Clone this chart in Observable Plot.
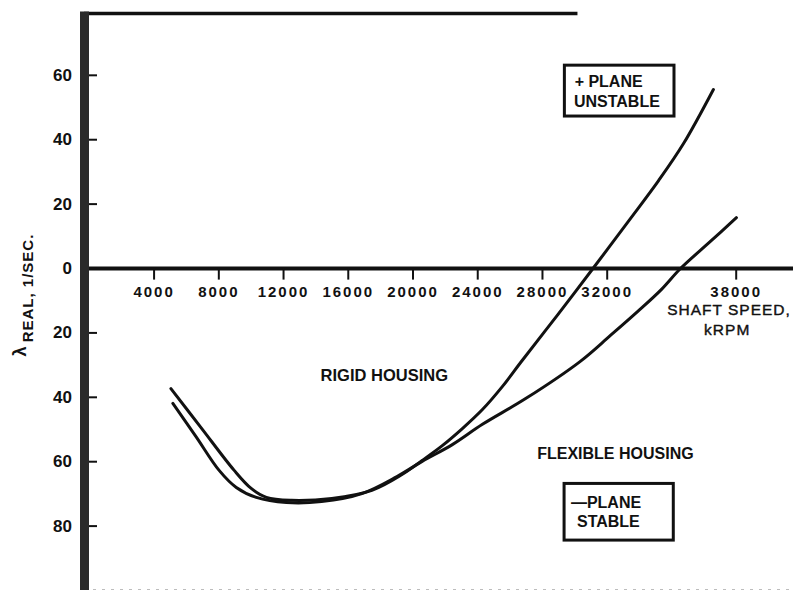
<!DOCTYPE html>
<html><head><meta charset="utf-8">
<script src="https://cdn.jsdelivr.net/npm/d3@7"></script>
<script src="https://cdn.jsdelivr.net/npm/@observablehq/plot@0.6"></script>
<style>
html,body{margin:0;padding:0;background:#fff;}
#chart svg{display:block;}
</style></head><body><div id="chart"></div>
<script>
// Axis ticks
const xTicks = [4000, 8000, 12000, 16000, 20000, 24000, 28000, 32000, 38000];
const xTickLabels = ["4000", "8000", "12000", "16000", "20000", "24000", "28000", "32000", "38000"];
const yTicks = [60, 40, 20, 0, -20, -40, -60, -80];
const yTickLabels = ["60", "40", "20", "0", "20", "40", "60", "80"];

// Rigid housing curve (shaft speed, lambda real 1/sec)
const rigidSpeed  = [5040, 6900, 8950, 10000, 10940, 12490, 14980, 17460, 19320, 20565, 21810, 23050, 24290, 25530, 26650, 28950, 31120, 33080, 34390, 35550, 36940];
const rigidLambda = [-37.3, -49.4, -62.7, -68.3, -71.1, -72.0, -71.4, -68.9, -64.0, -59.6, -55.0, -49.7, -43.8, -36.6, -29.2, -14.3, 0, 15.5, 27.3, 38.8, 55.6];

// Flexible housing curve
const flexSpeed  = [5160, 6590, 8020, 9080, 10320, 12180, 14350, 16840, 19010, 20565, 22430, 24290, 26960, 30320, 32150, 33410, 34480, 35410, 36800, 38010];
const flexLambda = [-41.9, -52.2, -62.7, -68.0, -71.1, -72.7, -72.4, -69.9, -64.6, -59.9, -54.7, -48.4, -40.4, -28.9, -20.8, -13.4, -6.8, 0, 8.4, 15.8];

const rigid = rigidSpeed.map((s, i) => ({speed: s, lambda: rigidLambda[i]}));
const flex = flexSpeed.map((s, i) => ({speed: s, lambda: flexLambda[i]}));

const xDomain = [-300, 32000, 38000, 40665];
const xRange = [84, 606.7, 735.7, 793];
const yDomain = [-100, 79.2];
const font = "'Liberation Sans', Arial, Helvetica, sans-serif";
const ink = "#111";

const chart = Plot.plot({
  width: 793,
  height: 590,
  margin: 0,
  style: {fontFamily: font, background: "#fff", color: ink},
  x: {type: "linear", domain: xDomain, range: xRange, axis: null},
  y: {type: "linear", domain: yDomain, range: [590, 13], axis: null},
  marks: [
    Plot.ruleY([yDomain[0] + 0.3], {x1: xDomain[0], x2: xDomain[3], stroke: "#bbb", strokeWidth: 1, strokeDasharray: "3,6"}),
    Plot.ruleY([0], {x1: xDomain[0], x2: xDomain[3], stroke: ink, strokeWidth: 4}),
    Plot.ruleY([yDomain[1]], {x1: xDomain[0], x2: 30193, stroke: ink, strokeWidth: 3.5}),
    Plot.ruleY(yTicks, {y: d => d, x1: xDomain[0], x2: 503, stroke: ink, strokeWidth: 2}),
    Plot.ruleX(xTicks, {x: d => d, y1: 0, y2: -3.6, stroke: ink, strokeWidth: 2}),
    Plot.ruleX([xDomain[0]], {y1: yDomain[0], y2: yDomain[1] + 0.5, stroke: "#2a2a2a", strokeWidth: 9}),
    Plot.text(yTicks, {x: xDomain[0], y: d => d, text: (d, i) => yTickLabels[i], textAnchor: "end", dx: -12.5, fontSize: 17, fontWeight: "bold", fill: ink}),
    Plot.text(xTicks, {x: d => d, y: 0, text: (d, i) => xTickLabels[i], dy: 23.5, fontSize: 15, fontWeight: "bold", fill: ink}),
    Plot.line(rigid, {x: "speed", y: "lambda", curve: "catmull-rom", stroke: ink, strokeWidth: 3}),
    Plot.line(flex, {x: "speed", y: "lambda", curve: "catmull-rom", stroke: ink, strokeWidth: 3}),
    Plot.text(["RIGID HOUSING"], {x: 18224, y: -33.2, fontSize: 16.5, fontWeight: "bold", fill: ink}),
    Plot.text(["FLEXIBLE HOUSING"], {x: 32381, y: -57.5, fontSize: 16, fontWeight: "bold", fill: ink}),
    Plot.text(["SHAFT SPEED,"], {x: 37665, y: -13.0, fontSize: 15.5, fill: ink, stroke: ink, strokeWidth: 0.4}),
    Plot.text(["kRPM"], {x: 37581, y: -19.0, fontSize: 15.5, fill: ink, stroke: ink, strokeWidth: 0.4}),
    Plot.rect([0], {x1: 29385, x2: 35130, y1: 47.2, y2: 63.0, fill: "#fff", stroke: ink, strokeWidth: 3}),
    Plot.text(["+ PLANE"], {x: 29988, y: 57.9, textAnchor: "start", fontSize: 16, fontWeight: "bold", fill: ink}),
    Plot.text(["UNSTABLE"], {x: 29944, y: 51.9, textAnchor: "start", fontSize: 16, fontWeight: "bold", fill: ink}),
    Plot.rect([0], {x1: 29366, x2: 35097, y1: -84.5, y2: -66.9, fill: "#fff", stroke: ink, strokeWidth: 3}),
    Plot.text(["—PLANE"], {x: 29758, y: -72.9, textAnchor: "start", fontSize: 16, fontWeight: "bold", fill: ink}),
    Plot.text(["STABLE"], {x: 30131, y: -78.8, textAnchor: "start", fontSize: 16, fontWeight: "bold", fill: ink}),
    Plot.text(["REAL, 1/SEC."], {frameAnchor: "left", textAnchor: "middle", dx: 27.5, dy: -7.5, rotate: -90, fontSize: 15, fontWeight: "bold", fill: ink}),
    Plot.text(["λ"], {frameAnchor: "left", textAnchor: "middle", dx: 20, dy: 56, rotate: -90, fontSize: 18, fontWeight: "bold", fill: ink})
  ]
});

// letter spacing (style only) to match the reference's wide typewriter-like lettering
const spacing = new Map([["REAL, 1/SEC.", "1px"], ["SHAFT SPEED,", "1px"], ["kRPM", "1px"]]);
xTickLabels.forEach(l => spacing.set(l, "2px"));
d3.select(chart).selectAll("text").each(function() {
  const s = spacing.get(this.textContent);
  if (s) this.setAttribute("letter-spacing", s);
});
document.getElementById("chart").appendChild(chart);
</script>
</body></html>
